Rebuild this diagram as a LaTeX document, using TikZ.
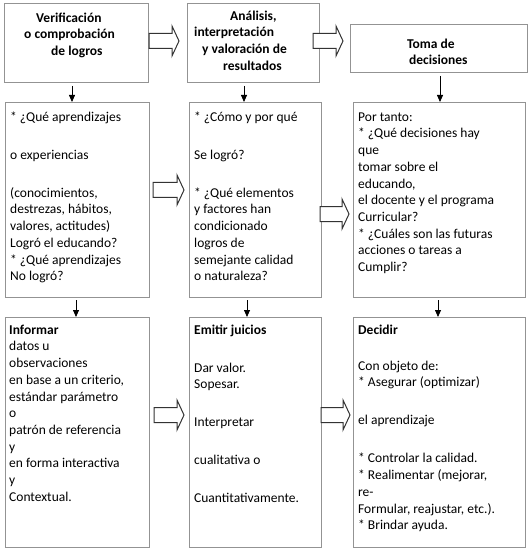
\documentclass[tikz,border=0pt]{standalone}
\usepackage{fontspec}
\setmainfont{Carlito}
\usetikzlibrary{positioning, calc, arrows.meta}

% strut for the first line of every text block, and the empty-line gap
\newcommand{\fst}{\rule{0pt}{12pt}}
\newcommand{\gap}{\\[21.3pt]}

% hollow block arrow: from, to, y, shift at tail, shift at tip
\newcommand{\hollowarrow}[5]{%
  \coordinate (ht) at ($(#1.east |- 0,#3)+(#4,0)$);
  \coordinate (hp) at ($(#2.west |- 0,#3)+(#5,0)$);
  \draw[hollow] ($(ht)+(0,-7.5)$) -- ($(hp)+(-7,-7.5)$) -- ($(hp)+(-7,-15)$)
    -- (hp) -- ($(hp)+(-7,15)$) -- ($(hp)+(-7,7.5)$) -- ($(ht)+(0,7.5)$) -- cycle;}

\begin{document}
\begin{tikzpicture}[x=1pt, y=-1pt,
    box/.style={draw=gray!85, line width=1pt, fill=white, anchor=north west, inner sep=0pt},
    txt/.style={anchor=north west, inner sep=0pt, align=left, font=\fontsize{13.5}{16.7}\selectfont},
    head/.style={txt, font=\fontsize{13.5}{16.7}\selectfont\bfseries},
    down/.style={-{Triangle[length=7pt,width=6pt]}, line width=0.8pt, black},
    hollow/.style={draw=black!80, fill=white, line width=1pt, line join=miter}]
    \useasboundingbox (0,0) rectangle (530,553);

    % Top row
    \node[box, minimum width=144pt, minimum height=79pt] (ver) at (4,3) {};
    \node[box, minimum width=132pt, minimum height=79pt] (ana) at (187,3) {};
    \node[box, minimum width=177pt, minimum height=48pt] (tom) at (350,24) {};

    \node[head] (ver-t) at ($(ver.north west)+(20,7)$)
        {\fst\hspace*{12pt}Verificación\\ o comprobación\\ \hspace*{27pt}de logros};
    \node[head] (ana-t) at ($(ana.north west)+(7,5)$)
        {\fst\hspace*{36pt}Análisis,\\ interpretación\\ \hspace*{8pt}y valoración de\\ \hspace*{29pt}resultados};
    \node[head] (tom-t) at ($(tom.north west)+(57,12)$)
        {\fst Toma de\\ \hspace*{2pt}decisiones};

    % Middle row
    \node[box, minimum width=144pt, minimum height=195pt] (preg) at (5,102) {};
    \node[box, minimum width=132pt, minimum height=195pt] (como) at (189,102) {};
    \node[box, minimum width=172pt, minimum height=195pt] (qdec) at (353,102) {};

    \node[txt] (preg-t) at ($(preg.north west)+(5,7)$)
        {\fst* ¿Qué aprendizajes\gap o experiencias\gap (conocimientos,\\ destrezas, hábitos,\\
         valores, actitudes)\\ Logró el educando?\\ * ¿Qué aprendizajes\\ No logró?};
    \node[txt] (como-t) at ($(como.north west)+(5,7)$)
        {\fst* ¿Cómo y por qué\gap Se logró?\gap * ¿Qué elementos\\ y factores han\\
         condicionado\\ logros de\\ semejante calidad\\ o naturaleza?};
    \node[txt] (qdec-t) at ($(qdec.north west)+(5,7)$)
        {\fst Por tanto:\\ * ¿Qué decisiones hay\\ que\\ tomar sobre el\\ educando,\\
         el docente y el programa\\ Curricular?\\ * ¿Cuáles son las futuras\\
         acciones o tareas a\\ Cumplir?};

    % Bottom row
    \node[box, minimum width=144pt, minimum height=230pt] (inf) at (5,317) {};
    \node[box, minimum width=132pt, minimum height=230pt] (emi) at (189,317) {};
    \node[box, minimum width=172pt, minimum height=230pt] (dec) at (353,317) {};

    \node[txt] (inf-t) at ($(inf.north west)+(4,5)$)
        {\fst\textbf{Informar}\\ datos u\\ observaciones\\ en base a un criterio,\\
         estándar parámetro\\ o\\ patrón de referencia\\ y\\ en forma interactiva\\ y\\ Contextual.};
    \node[txt] (emi-t) at ($(emi.north west)+(5,5)$)
        {\fst\textbf{Emitir juicios}\gap Dar valor.\\ Sopesar.\gap Interpretar\gap
         cualitativa o\gap Cuantitativamente.};
    \node[txt] (dec-t) at ($(dec.north west)+(5,5)$)
        {\fst\textbf{Decidir}\\[19.3pt] Con objeto de:\\ * Asegurar (optimizar)\gap el aprendizaje\gap
         * Controlar la calidad.\\ * Realimentar (mejorar,\\ re-\\ Formular, reajustar, etc.).\\
         * Brindar ayuda.};

    % Down arrows
    \draw[down] ($(ver.south -| 72,0)+(0,3)$) -- (preg.north -| 72,0);
    \draw[down] ($(ana.south -| 244,0)+(0,3)$) -- (como.north -| 244,0);
    \draw[down] ($(tom.south -| 440,0)+(0,3)$) -- (qdec.north -| 440,0);
    \draw[down] ($(preg.south -| 76,0)+(0,2)$) -- (inf.north -| 76,0);
    \draw[down] ($(como.south -| 247,0)+(0,2)$) -- (emi.north -| 247,0);
    \draw[down] ($(qdec.south -| 438,0)+(0,2)$) -- (dec.north -| 438,0);

    % Hollow arrows
    \hollowarrow{ver}{ana}{41}{0}{-8}
    \hollowarrow{ana}{tom}{41}{-7}{-7}
    \hollowarrow{preg}{como}{190}{3}{-5}
    \hollowarrow{como}{qdec}{214}{-2}{-4}
    \hollowarrow{inf}{emi}{415}{4}{-5}
    \hollowarrow{emi}{dec}{415}{-1}{-3}
\end{tikzpicture}
\end{document}
